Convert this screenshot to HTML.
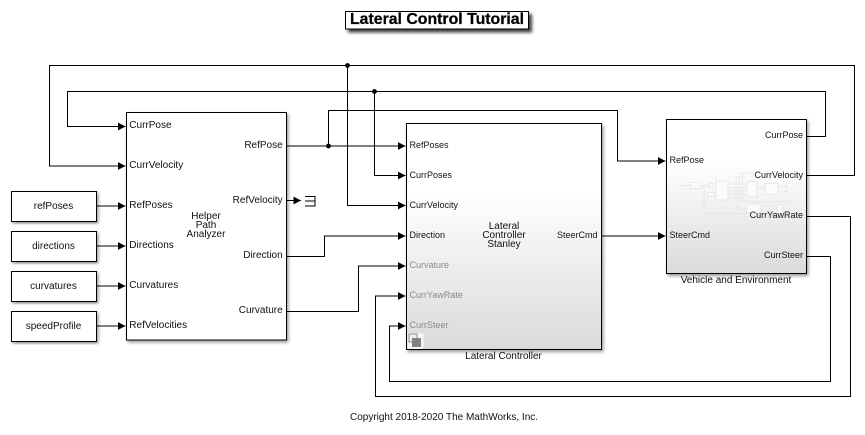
<!DOCTYPE html>
<html><head><meta charset="utf-8"><style>
html,body{margin:0;padding:0;background:#fff}
svg{display:block}
text{font-family:"Liberation Sans",Arial,sans-serif;font-size:10px;fill:#111}
.e{text-anchor:end}.m{text-anchor:middle}.g{fill:#8a8a8a}
.w{fill:none;stroke:#000;stroke-width:1}
.b{stroke:#000;stroke-width:1;fill:#fff}
.n{fill:none;stroke:#dedede;stroke-width:.6}
.nb{fill:#fbfbfb;stroke:#dedede;stroke-width:.6}
</style></head><body>
<svg width="865" height="435" viewBox="0 0 865 435" xmlns="http://www.w3.org/2000/svg">
<defs>
<filter id="s" x="-10%" y="-10%" width="120%" height="120%"><feDropShadow dx="1.5" dy="2" stdDeviation="1.5" flood-color="#000" flood-opacity=".4"/></filter>
<filter id="t" x="-10%" y="-30%" width="120%" height="180%"><feDropShadow dx="3" dy="3" stdDeviation="1.5" flood-color="#000" flood-opacity=".75"/></filter>
<linearGradient id="g1" x1="0" y1="0" x2="0" y2="1"><stop offset="0" stop-color="#fff"/><stop offset=".3" stop-color="#fff"/><stop offset="1" stop-color="#dadada"/></linearGradient>
<linearGradient id="g2" x1="0" y1="0" x2="0" y2="1"><stop offset="0" stop-color="#fff"/><stop offset=".28" stop-color="#fff"/><stop offset="1" stop-color="#dadada"/></linearGradient>
<marker id="a" markerUnits="userSpaceOnUse" markerWidth="9" markerHeight="9" refX="7.5" refY="4.5" orient="auto"><path d="M0 .6L7.5 4.5L0 8.4z" fill="#000"/></marker>
</defs>

<rect x="345.5" y="11.5" width="183" height="17.5" fill="#fff" stroke="#000" filter="url(#t)"/>
<text x="350" y="24" style="font-size:16px;font-weight:bold;fill:#000;stroke:#000;stroke-width:.25" textLength="174" lengthAdjust="spacingAndGlyphs">Lateral Control Tutorial</text>

<rect class="b" x="126.5" y="112.5" width="160" height="227.5" filter="url(#s)"/>
<rect class="b" x="11.5" y="191.5" width="85" height="30" filter="url(#s)"/>
<rect class="b" x="11.5" y="231.5" width="85" height="30" filter="url(#s)"/>
<rect class="b" x="11.5" y="271.5" width="85" height="30" filter="url(#s)"/>
<rect class="b" x="11.5" y="311.5" width="85" height="30" filter="url(#s)"/>
<rect x="406.5" y="123.5" width="195" height="226" fill="url(#g1)" stroke="#000" filter="url(#s)"/>
<rect x="666.5" y="119.5" width="140" height="154" fill="url(#g2)" stroke="#000" filter="url(#s)"/>

<!-- mini diagram inside Vehicle block -->
<path class="n" d="M680 185.5H690M701 185.5H709M704 185.5V213.5H750M722 185.5H716M716 177V185"/>
<rect class="nb" x="690.5" y="182.5" width="10.5" height="6"/>
<rect class="nb" x="709" y="183.5" width="4" height="3.5"/>
<rect class="nb" x="707.5" y="192.5" width="6.5" height="4"/>
<rect class="nb" x="716" y="181" width="12" height="19"/>
<path class="n" d="M728 184H746M728 187.5H746M728 191H746M728 194.5H746M728 198H746M736 177V204M739 177V210M742 173V202M736 177H746M739 173H755"/>
<rect class="nb" x="747" y="181.5" width="10" height="15"/>
<path class="n" d="M757 188H765"/>
<rect class="nb" x="765" y="183.5" width="13" height="11"/>
<path class="n" d="M778 186H785M778 191H785"/>
<circle class="nb" cx="786" cy="186" r="1"/><circle class="nb" cx="786" cy="191" r="1"/><circle class="nb" cx="789" cy="201.5" r="1"/>
<path class="n" d="M742 201.5H788M737 209H747M738 213.5H747M760 206H777M760 213H777"/>
<circle class="nb" cx="737" cy="209" r="1.3"/>
<rect class="nb" x="747" y="204" width="13" height="9"/>
<rect class="nb" x="777" y="205" width="5" height="9"/>

<!-- signals -->
<path class="w" d="M806.7 175.5H854.5V65.5H49.5V166H125.5" marker-end="url(#a)"/>
<path class="w" d="M806.7 136.5H825.5V91.5H67.5V126.5H125.5" marker-end="url(#a)"/>
<path class="w" d="M347.5 65.5V205.5H405.5" marker-end="url(#a)"/>
<path class="w" d="M374.5 91.5V175.5H405.5" marker-end="url(#a)"/>
<path class="w" d="M286.7 146H405.5" marker-end="url(#a)"/>
<path class="w" d="M328.5 146V110.5H617.5V161H665.5" marker-end="url(#a)"/>
<path class="w" d="M286.7 256.5H324.5V236H405.5" marker-end="url(#a)"/>
<path class="w" d="M286.7 311.5H358.5V266H405.5" marker-end="url(#a)"/>
<path class="w" d="M806.7 216.5H850.5V396.5H375.5V296H405.5" marker-end="url(#a)"/>
<path class="w" d="M806.7 256.5H830.5V381.5H389.5V326H405.5" marker-end="url(#a)"/>
<path class="w" d="M601.7 236H665.5" marker-end="url(#a)"/>
<path class="w" d="M96.7 206H125.5" marker-end="url(#a)"/>
<path class="w" d="M96.7 246H125.5" marker-end="url(#a)"/>
<path class="w" d="M96.7 286H125.5" marker-end="url(#a)"/>
<path class="w" d="M96.7 326H125.5" marker-end="url(#a)"/>
<path class="w" d="M286.7 200.5H301" marker-end="url(#a)"/>
<path class="w" d="M305 196.5H315V206H305M305 201H315"/>
<circle cx="347.5" cy="65.5" r="2.4"/><circle cx="374.5" cy="91.5" r="2.4"/><circle cx="328.5" cy="146" r="2.4"/>

<!-- source labels -->
<text class="m" x="53.5" y="209">refPoses</text>
<text class="m" x="53.5" y="249">directions</text>
<text class="m" x="53.5" y="289">curvatures</text>
<text class="m" x="53.5" y="329">speedProfile</text>

<!-- helper -->
<text x="129.3" y="128">CurrPose</text>
<text x="129.3" y="168">CurrVelocity</text>
<text x="129.3" y="208">RefPoses</text>
<text x="129.3" y="248">Directions</text>
<text x="129.3" y="288">Curvatures</text>
<text x="129.3" y="328">RefVelocities</text>
<text class="e" x="282.7" y="148">RefPose</text>
<text class="e" x="282.7" y="203">RefVelocity</text>
<text class="e" x="282.7" y="258">Direction</text>
<text class="e" x="282.7" y="313">Curvature</text>
<text class="m" x="206" y="219">Helper</text>
<text class="m" x="206" y="228">Path</text>
<text class="m" x="206" y="237">Analyzer</text>

<!-- lateral -->
<text x="409.5" y="148" style="font-size:9px">RefPoses</text>
<text x="409.5" y="178" style="font-size:9px">CurrPoses</text>
<text x="409.5" y="208" style="font-size:9px">CurrVelocity</text>
<text x="409.5" y="238" style="font-size:9px">Direction</text>
<text class="g" x="409.5" y="268" style="font-size:9px">Curvature</text>
<text class="g" x="409.5" y="298" style="font-size:9px">CurrYawRate</text>
<text class="g" x="409.5" y="328" style="font-size:9px">CurrSteer</text>
<text class="e" x="597.5" y="238" style="font-size:9px">SteerCmd</text>
<text class="m" x="504" y="229">Lateral</text>
<text class="m" x="504" y="238">Controller</text>
<text class="m" x="504" y="247">Stanley</text>
<text class="m" x="503.5" y="359">Lateral Controller</text>

<!-- vehicle -->
<text class="e" x="803" y="138" style="font-size:9px">CurrPose</text>
<text class="e" x="803" y="178" style="font-size:9px">CurrVelocity</text>
<text class="e" x="803" y="218" style="font-size:9px">CurrYawRate</text>
<text class="e" x="803" y="258" style="font-size:9px">CurrSteer</text>
<text x="669.5" y="163" style="font-size:9px">RefPose</text>
<text x="669.5" y="238" style="font-size:9px">SteerCmd</text>
<text class="m" x="736" y="283">Vehicle and Environment</text>

<!-- subsystem icon -->
<rect x="407.5" y="333" width="16" height="16" rx="2" fill="#f6f6f6"/>
<rect x="409" y="334" width="8" height="8" fill="#eee" stroke="#777" stroke-width=".8"/>
<rect x="412" y="338" width="9" height="9" fill="#777" fill-opacity=".9"/>

<text class="m" x="444" y="420">Copyright 2018-2020 The MathWorks, Inc.</text>
</svg>
</body></html>
